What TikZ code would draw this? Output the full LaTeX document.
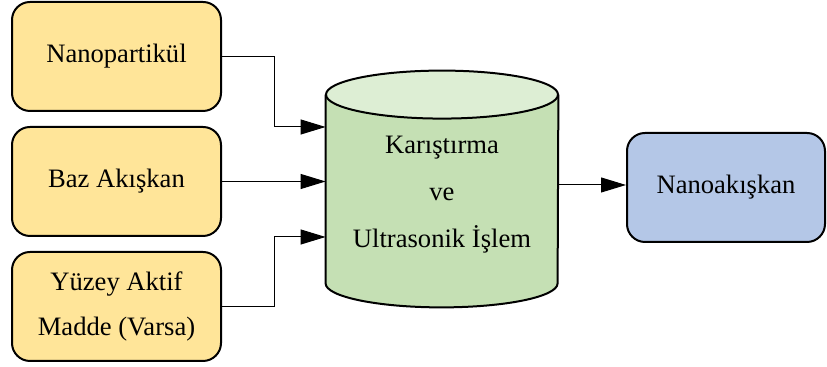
\documentclass[tikz,border=0pt]{standalone}
\usepackage{fontspec}
\setmainfont{Liberation Serif}
\usetikzlibrary{arrows.meta}
\definecolor{boxyellow}{HTML}{FFE599}
\definecolor{cylside}{HTML}{C5E0B4}
\definecolor{cyltop}{HTML}{DDEED4}
\definecolor{boxblue}{HTML}{B4C7E7}
\begin{document}
\begin{tikzpicture}[x=0.5pt,y=0.5pt,
  inbox/.style={draw,line width=1pt,rounded corners=9pt,fill=boxyellow,
    minimum width=104.5pt,minimum height=54.5pt,align=center,
    font=\fontsize{13.3}{22.5}\selectfont},
  outbox/.style={inbox,fill=boxblue,minimum width=99pt},
  link/.style={line width=0.5pt,-{Triangle[length=12.5pt,width=7.5pt]}}]
\useasboundingbox (0,0) rectangle (827,367);

% inputs
\node[inbox] (np) at (116.5,310.5) {Nanopartikül};
\node[inbox] (baz) at (116.5,185.5) {Baz Akışkan};
\node[inbox] (yuzey) at (116.5,60.5) {Yüzey Aktif\\Madde (Varsa)};

% mixing tank
\node[minimum width=116pt,minimum height=94pt] (mix) at (442,178) {};
\draw[line width=1pt,fill=cylside] (mix.north west) -- (mix.south west)
  arc[start angle=180,end angle=360,x radius=58pt,y radius=12pt] -- (mix.north east);
\draw[line width=1pt,fill=cyltop] (mix.north) ellipse[x radius=58pt,y radius=12pt];
\node[align=center,font=\fontsize{13.3}{23.5}\selectfont] (mixtext) at (442,172)
  {Karıştırma\\ve\\Ultrasonik İşlem};

% output
\node[outbox] (out) at (726,179.5) {Nanoakışkan};

\draw[link] (np.east) -- ++(52,0) |- (mix.west |- 0,240);
\draw[link] (baz.east) -- (mix.west |- baz.east);
\draw[link] (yuzey.east) -- ++(52,0) |- (mix.west |- 0,130);
\draw[link] (mix.east |- 0,182) -- (out.west |- 0,182);
\end{tikzpicture}
\end{document}
